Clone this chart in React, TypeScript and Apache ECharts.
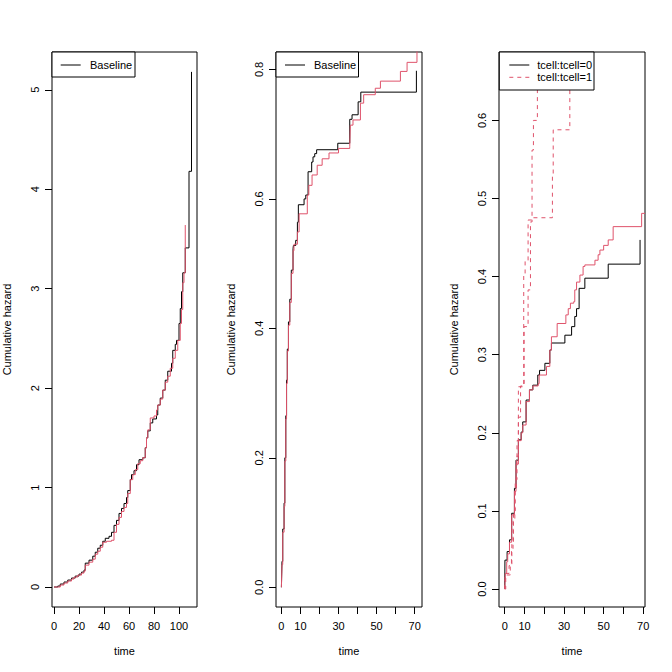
import React, { useEffect, useRef } from "react";
import * as echarts from "echarts";

const RED = "#DF536B";
const FONT = "'Liberation Sans', Arial, Helvetica, sans-serif";

// Panel 1: Baseline cumulative hazard (time, hazard)
const p1Black: number[][] = [
  [0, 0], [3, 0.01], [5, 0.03], [8, 0.05], [11, 0.07], [14, 0.09], [17, 0.11], [20, 0.13],
  [22, 0.15], [24, 0.17], [25, 0.24], [28, 0.27], [31, 0.31], [33, 0.35], [35, 0.39],
  [37, 0.42], [39, 0.46], [41, 0.49], [44, 0.51], [46, 0.55], [48, 0.62], [50, 0.67],
  [52, 0.74], [54, 0.79], [56, 0.84], [58, 0.9], [59, 0.97], [61, 1.08], [62, 1.13],
  [64, 1.17], [66, 1.23], [68, 1.28], [71, 1.3], [73, 1.4], [74, 1.5], [75, 1.57],
  [77, 1.65], [79, 1.69], [82, 1.73], [83, 1.83], [85, 1.9], [87, 1.98], [89, 2.08],
  [91, 2.17], [94, 2.25], [95, 2.38], [97, 2.44], [98, 2.48], [100, 2.65], [101, 2.8],
  [102, 2.97], [103, 3.16], [105, 3.41], [108, 4.18], [110, 5.18],
];
const p1Red: number[][] = [
  [0, 0], [3, 0], [5, 0.02], [8, 0.04], [11, 0.06], [14, 0.08], [16, 0.1], [19, 0.12],
  [22, 0.14], [24, 0.16], [25, 0.22], [28, 0.25], [31, 0.28], [33, 0.33], [35, 0.36],
  [37, 0.4], [39, 0.45], [42, 0.46], [46, 0.47], [48, 0.55], [50, 0.63], [52, 0.7],
  [54, 0.76], [56, 0.8], [58, 0.84], [59, 0.94], [61, 1.08], [63, 1.13], [65, 1.18],
  [67, 1.24], [69, 1.27], [71, 1.3], [73, 1.4], [74, 1.5], [75, 1.58], [77, 1.7],
  [80, 1.72], [82, 1.78], [83, 1.83], [85, 1.89], [87, 1.98], [89, 2.06], [91, 2.12],
  [93, 2.2], [95, 2.3], [97, 2.38], [99, 2.48], [101, 2.65], [102, 2.79], [103, 3.06],
  [104, 3.16], [105, 3.64],
];

// Panel 2
const p2Black: number[][] = [
  [0, 0], [0.3, 0.04], [0.7, 0.09], [1.4, 0.13], [1.8, 0.2], [2.3, 0.265], [2.7, 0.32],
  [3.1, 0.368], [3.7, 0.41], [4.4, 0.445], [5.2, 0.49], [6.1, 0.523], [6.3, 0.528],
  [7.5, 0.536], [8.4, 0.564], [8.9, 0.591], [11.9, 0.6], [12.8, 0.606], [14, 0.642],
  [15.9, 0.657], [16.6, 0.665], [17.5, 0.67], [18.5, 0.676], [29.6, 0.686], [35.9, 0.723],
  [37.1, 0.73], [40.3, 0.75], [41.7, 0.765], [70.9, 0.798],
];
const p2Red: number[][] = [
  [0, 0], [0.3, 0.035], [0.7, 0.085], [1.4, 0.125], [1.8, 0.195], [2.3, 0.26], [2.7, 0.315],
  [3.1, 0.365], [3.7, 0.405], [4.4, 0.44], [5.2, 0.485], [6.1, 0.52], [6.6, 0.53],
  [8.4, 0.549], [9.3, 0.577], [13.6, 0.606], [14.4, 0.621], [16.1, 0.637], [18.8, 0.652],
  [21.4, 0.662], [25, 0.671], [30, 0.678], [35.9, 0.681], [36.2, 0.714], [37.6, 0.722],
  [41.5, 0.748], [43.2, 0.761], [49.3, 0.771], [52, 0.782], [62.5, 0.797], [66, 0.811],
  [71.2, 0.84], [73.8, 0.84],
];

// Panel 3: strata tcell=0 (solid) and tcell=1 (dashed)
const p3Black0: number[][] = [
  [0, 0], [0.1, 0.037], [1.2, 0.048], [2.4, 0.063], [3.5, 0.097], [4.9, 0.129], [5.7, 0.165],
  [6.9, 0.191], [8.3, 0.201], [9.1, 0.214], [10.8, 0.242], [12.5, 0.255], [14.2, 0.261],
  [16.7, 0.274], [17.6, 0.28], [20.3, 0.289], [22.8, 0.306], [23.6, 0.315], [30.4, 0.325],
  [33.8, 0.336], [35.4, 0.349], [36.3, 0.359], [37.6, 0.385], [40.5, 0.398], [52.3, 0.416],
  [68.4, 0.447],
];
const p3Red0: number[][] = [
  [0, 0], [0.3, 0.02], [1, 0.035], [1.5, 0.045], [2.4, 0.06], [3.5, 0.095], [4.9, 0.125],
  [5.7, 0.16], [6.9, 0.19], [8.3, 0.2], [9.1, 0.21], [10.8, 0.24], [12.5, 0.255],
  [14.2, 0.26], [16.9, 0.263], [17.4, 0.274], [21.1, 0.285], [22.8, 0.306], [23.6, 0.323],
  [26.5, 0.34], [30.9, 0.351], [32.1, 0.359], [33.2, 0.366], [34.9, 0.368], [35.4, 0.383],
  [36.3, 0.393], [38, 0.402], [39.6, 0.413], [40.5, 0.415], [45.6, 0.421], [47.2, 0.428],
  [48.1, 0.434], [50, 0.44], [52.3, 0.447], [54.8, 0.464], [69.2, 0.481], [70.9, 0.481],
];
const p3Dash1a: number[][] = [
  [0, 0], [0.3, 0.02], [2.2, 0.03], [3.4, 0.05], [4.2, 0.09], [5.1, 0.13], [5.9, 0.17],
  [6.9, 0.22], [8, 0.26], [9.8, 0.336], [11.8, 0.383], [13, 0.47], [13.8, 0.562],
  [14.5, 0.6], [16.5, 0.645], [19.5, 0.75],
];
const p3Dash1b: number[][] = [
  [0, 0], [0.5, 0.018], [2.8, 0.03], [3.6, 0.06], [4.4, 0.1], [5.3, 0.14], [6.2, 0.19],
  [6.9, 0.259], [9.6, 0.404], [10.3, 0.42], [11.8, 0.4725], [13.8, 0.4754], [24.1, 0.528],
  [24.5, 0.588], [32.9, 0.75],
];

const p1XTicks = [0, 20, 40, 60, 80, 100];
const p1YTicks = [0, 1, 2, 3, 4, 5];
const p23XTicks = [0, 10, 20, 30, 40, 50, 60, 70];
const p23XLabels = [0, 10, 30, 50, 70];
const p2YTicks = [0, 0.2, 0.4, 0.6, 0.8];
const p3YTicks = [0, 0.1, 0.2, 0.3, 0.4, 0.5, 0.6];

const xTitle = "time";
const yTitle = "Cumulative hazard";
const legend12 = ["Baseline"];
const legend3 = ["tcell:tcell=0", "tcell:tcell=1"];

export default function App() {
  const ref = useRef<HTMLDivElement>(null);
  useEffect(() => {
    const chart = echarts.init(ref.current!, null, { renderer: "svg" });
    const fs = 11;
    const lbl = { fontFamily: FONT, fontSize: fs, color: "#000" };
    const grids = [
      { left: 52, top: 52, width: 145, height: 555 },
      { left: 276, top: 52, width: 146, height: 555 },
      { left: 499, top: 52, width: 146, height: 555 },
    ].map((g) => ({ ...g, show: true, borderColor: "#000", borderWidth: 1, backgroundColor: "transparent" }));

    const xAxisDef = (i: number, min: number, max: number, ticks: number[], labels: number[]) => ({
      type: "value", gridIndex: i, min, max, position: "bottom",
      axisLine: { show: false, onZero: false, lineStyle: { color: "#000" } },
      splitLine: { show: false },
      axisTick: { show: true, inside: false, length: 7, customValues: ticks, lineStyle: { color: "#000" } },
      axisLabel: { ...lbl, margin: 13, customValues: labels, formatter: (v: number) => String(v) },
      name: xTitle, nameLocation: "middle", nameGap: 38,
      nameTextStyle: { ...lbl },
    });
    const yAxisDef = (i: number, min: number, max: number, ticks: number[], fmt: (v: number) => string) => ({
      type: "value", gridIndex: i, min, max, position: "left",
      axisLine: { show: false, onZero: false, lineStyle: { color: "#000" } },
      splitLine: { show: false },
      axisTick: { show: true, inside: false, length: 7, customValues: ticks, lineStyle: { color: "#000" } },
      axisLabel: { ...lbl, margin: 12, rotate: 90, customValues: ticks, formatter: fmt },
      name: yTitle, nameLocation: "middle", nameGap: 40,
      nameTextStyle: { ...lbl },
    });

    const line = (data: number[][], xi: number, color: string, dashed = false) => ({
      type: "line", xAxisIndex: xi, yAxisIndex: xi, data, step: "end", showSymbol: false, symbol: "none",
      clip: true, lineStyle: { color, width: 1, type: dashed ? [4, 4] : "solid" }, silent: true,
    });

    const legendBox = (x: number, y: number, w: number, h: number, rows: { text: string; color: string; dashed: boolean }[], lx: number, tx: number) => {
      const els: any[] = [
        { type: "rect", z: 100, shape: { x, y, width: w, height: h }, style: { fill: "#fff", stroke: "#000", lineWidth: 1 } },
      ];
      rows.forEach((r, k) => {
        const yy = y + 13 + k * 12.3;
        els.push({ type: "line", z: 101, shape: { x1: lx, y1: yy, x2: lx + 20, y2: yy }, style: { stroke: r.color, lineWidth: 1, lineDash: r.dashed ? [4, 4] : null } });
        els.push({ type: "text", z: 101, x: tx, y: yy, style: { text: r.text, font: `${fs}px ${FONT}`, fill: "#000", textVerticalAlign: "middle", textAlign: "left" } });
      });
      return els;
    };

    const option: any = {
      animation: false,
      grid: grids,
      xAxis: [
        xAxisDef(0, -1.6, 114.4, p1XTicks, p1XTicks),
        xAxisDef(1, -2.84, 73.84, p23XTicks, p23XLabels),
        xAxisDef(2, -2.9, 70.9, p23XTicks, p23XLabels),
      ],
      yAxis: [
        yAxisDef(0, -0.201, 5.38, p1YTicks, (v) => String(v)),
        yAxisDef(1, -0.0305, 0.827, p2YTicks, (v) => v.toFixed(1)),
        yAxisDef(2, -0.023, 0.6876, p3YTicks, (v) => v.toFixed(1)),
      ],
      series: [
        line(p1Black, 0, "#000"),
        line(p1Red, 0, RED),
        line(p2Black, 1, "#000"),
        line(p2Red, 1, RED),
        line(p3Black0, 2, "#000"),
        line(p3Red0, 2, RED),
        line(p3Dash1a, 2, RED, true),
        line(p3Dash1b, 2, RED, true),
      ],
      graphic: [
        ...legendBox(52, 52, 83, 25, [{ text: legend12[0], color: "#000", dashed: false }], 60.7, 90),
        ...legendBox(276, 52, 82.5, 25, [{ text: legend12[0], color: "#000", dashed: false }], 285, 314),
        ...legendBox(499.3, 52, 94.7, 38, [
          { text: legend3[0], color: "#000", dashed: false },
          { text: legend3[1], color: RED, dashed: true },
        ], 509.3, 537.3),
      ],
    };
    chart.setOption(option);
    return () => chart.dispose();
  }, []);
  return <div ref={ref} style={{ position: "fixed", left: 0, top: 0, width: 672, height: 672, background: "#fff" }} />;
}
